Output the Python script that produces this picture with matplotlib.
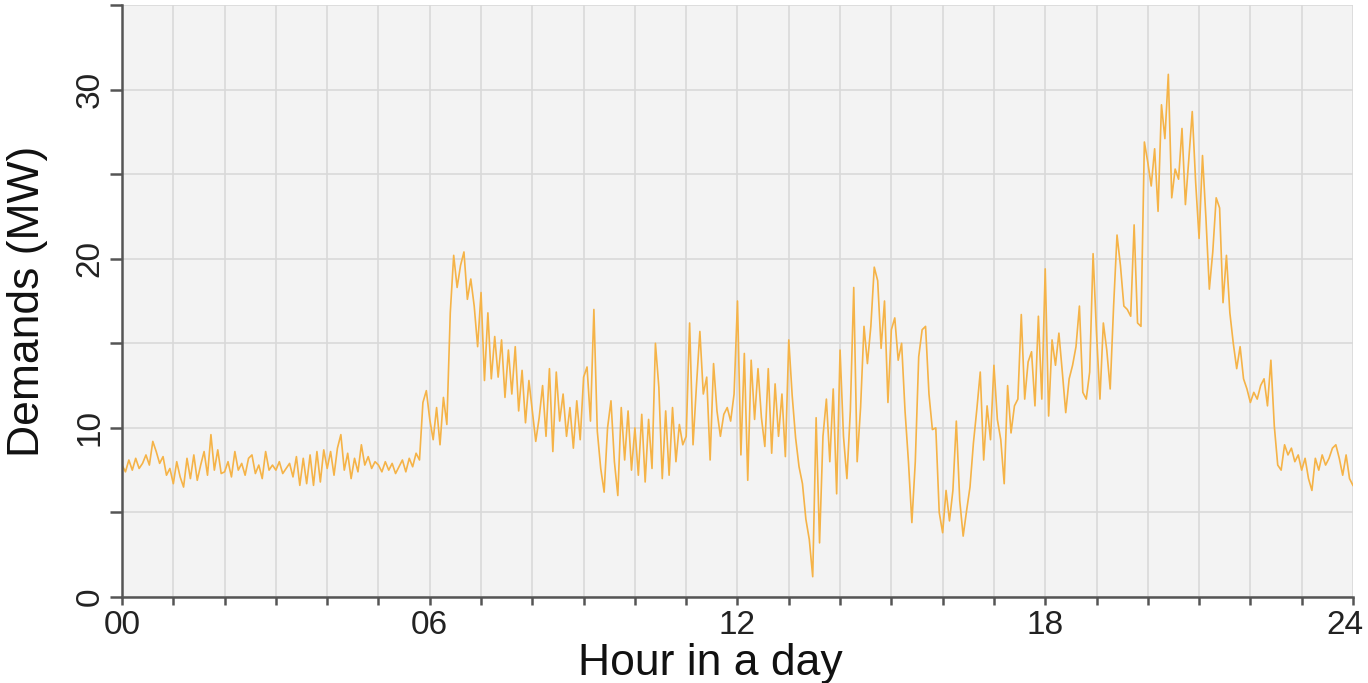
import matplotlib.pyplot as plt
import matplotlib.transforms as mtransforms
import numpy as np
from matplotlib.ticker import MultipleLocator

plt.rcParams['font.family'] = ['Liberation Sans', 'DejaVu Sans']

# --- demand readings, one row per hour, sampled every 4 minutes ---
h00 = [7.8, 7.4, 8.1, 7.5, 8.2, 7.6, 7.9, 8.4, 7.8, 9.2, 8.6, 7.9, 8.3, 7.2, 7.6]
h01 = [6.7, 8.0, 7.1, 6.5, 8.2, 7.0, 8.4, 6.9, 7.8, 8.6, 7.2, 9.6, 7.5, 8.7, 7.3]
h02 = [7.4, 8.0, 7.1, 8.6, 7.5, 7.9, 7.2, 8.2, 8.4, 7.3, 7.8, 7.0, 8.6, 7.5, 7.8]
h03 = [7.5, 8.0, 7.3, 7.6, 7.9, 7.1, 8.3, 6.6, 8.2, 6.7, 8.4, 6.6, 8.6, 6.8, 8.7]
h04 = [7.6, 8.6, 7.2, 8.8, 9.6, 7.5, 8.5, 7.0, 8.2, 7.4, 9.0, 7.8, 8.3, 7.6, 8.0]
h05 = [7.8, 7.4, 8.0, 7.5, 7.9, 7.3, 7.7, 8.1, 7.4, 8.2, 7.7, 8.5, 8.1, 11.5, 12.2]
h06 = [10.5, 9.3, 11.2, 9.0, 11.8, 10.2, 16.8, 20.2, 18.3, 19.6, 20.4, 17.6, 18.8, 17.2, 14.8]
h07 = [18.0, 12.8, 16.8, 12.9, 15.4, 13.0, 15.2, 11.8, 14.6, 12.0, 14.8, 11.0, 13.4, 10.3, 12.8]
h08 = [11.0, 9.2, 10.6, 12.5, 9.5, 13.5, 8.6, 13.3, 10.4, 12.0, 9.5, 11.2, 8.8, 11.6, 9.3]
h09 = [13.0, 13.6, 10.4, 17.0, 9.8, 7.6, 6.2, 10.0, 11.6, 8.0, 6.0, 11.2, 8.1, 11.0, 7.5]
h10 = [10.0, 7.2, 10.8, 6.8, 10.5, 7.6, 15.0, 12.4, 7.0, 11.0, 7.2, 11.2, 8.0, 10.2, 9.0]
h11 = [9.5, 16.2, 9.0, 12.5, 15.7, 12.0, 13.0, 8.1, 13.8, 11.0, 9.5, 10.8, 11.2, 10.4, 12.0]
h12 = [17.5, 8.4, 14.4, 6.9, 14.0, 10.5, 13.5, 10.6, 8.9, 13.5, 8.5, 12.6, 9.5, 12.0, 8.3]
h13 = [15.2, 11.9, 9.4, 7.7, 6.7, 4.6, 3.4, 1.2, 10.6, 3.2, 9.5, 11.7, 8.0, 12.3, 6.1]
h14 = [14.6, 9.5, 7.0, 11.0, 18.3, 8.0, 11.2, 16.0, 13.8, 16.0, 19.5, 18.7, 14.7, 17.5, 11.5]
h15 = [15.8, 16.5, 14.0, 15.0, 11.0, 8.0, 4.4, 8.0, 14.2, 15.8, 16.0, 12.0, 9.9, 10.0, 5.0]
h16 = [3.8, 6.3, 4.5, 6.3, 10.4, 5.7, 3.6, 5.1, 6.5, 9.1, 11.1, 13.3, 8.1, 11.3, 9.3]
h17 = [13.7, 10.5, 9.3, 6.7, 12.5, 9.7, 11.3, 11.7, 16.7, 11.7, 13.9, 14.5, 11.3, 16.6, 11.7]
h18 = [19.4, 10.7, 15.2, 13.7, 15.6, 13.3, 10.9, 12.9, 13.7, 14.8, 17.2, 12.1, 11.7, 13.3, 20.3]
h19 = [15.6, 11.7, 16.2, 14.6, 12.3, 17.2, 21.4, 19.6, 17.2, 17.0, 16.6, 22.0, 16.2, 16.0, 26.9]
h20 = [25.7, 24.3, 26.5, 22.8, 29.1, 27.1, 30.9, 23.6, 25.3, 24.7, 27.7, 23.2, 25.9, 28.7, 24.5]
h21 = [21.2, 26.1, 22.4, 18.2, 20.4, 23.6, 23.0, 17.4, 20.2, 16.8, 15.0, 13.5, 14.8, 12.9, 12.3]
h22 = [11.5, 12.1, 11.7, 12.5, 12.9, 11.3, 14.0, 10.1, 7.8, 7.5, 9.0, 8.4, 8.8, 8.0, 8.4]
h23 = [7.5, 8.2, 7.0, 6.3, 8.2, 7.5, 8.4, 7.8, 8.2, 8.8, 9.0, 8.2, 7.2, 8.4, 7.0]
end_value = [6.6]

demand = np.array(h00 + h01 + h02 + h03 + h04 + h05 + h06 + h07 + h08 + h09 + h10 + h11
                  + h12 + h13 + h14 + h15 + h16 + h17 + h18 + h19 + h20 + h21 + h22 + h23
                  + end_value)
hours = np.arange(len(demand)) * 4 / 60.0

major_hours = [0, 6, 12, 18, 24]
major_labels = ['00', '06', '12', '18', '24']

# --- plot ---
fig = plt.figure(figsize=(13.68, 6.83), dpi=100)
ax = fig.add_axes([0.0892, 0.1259, 0.8998, 0.8668])
ax.set_facecolor('#f3f3f3')

ax.plot(hours, demand, color='#f5b347', linewidth=1.2)

ax.set_xlim(0, 24)
ax.set_ylim(0, 35)
ax.set_xticks(major_hours)
ax.set_xticklabels(major_labels)
ax.xaxis.set_minor_locator(MultipleLocator(1))
ax.set_yticks([0, 10, 20, 30])
ax.yaxis.set_minor_locator(MultipleLocator(5))

ax.grid(True, which='both', color='#d9d9d9', linewidth=1.2)
ax.set_axisbelow(True)

for side in ['top', 'right']:
    ax.spines[side].set_visible(False)
for side in ['left', 'bottom']:
    ax.spines[side].set_color('#555555')
    ax.spines[side].set_linewidth(1.8)

ax.tick_params(which='both', direction='out', color='#555555', width=1.8)
ax.tick_params(axis='y', which='both', length=9)
ax.tick_params(axis='x', which='both', length=6)
ax.tick_params(axis='both', labelsize=24, labelcolor='#222222', pad=3)
for lbl in ax.get_yticklabels():
    lbl.set_rotation(90)
    lbl.set_va('center')

# last hour label sits a little inside so it is not clipped
last = ax.get_xticklabels()[-1]
last.set_transform(last.get_transform()
                   + mtransforms.ScaledTranslation(-8 / 100, 0, fig.dpi_scale_trans))

ax.set_xlabel('Hour in a day', fontsize=32, color='#111111', va='top')
ax.xaxis.set_label_coords(0.478, -0.078)
ax.set_ylabel('Demands (MW)', fontsize=32, color='#111111', va='center')
ax.yaxis.set_label_coords(-0.077, 0.5)

plt.savefig('out.png', dpi=100)
